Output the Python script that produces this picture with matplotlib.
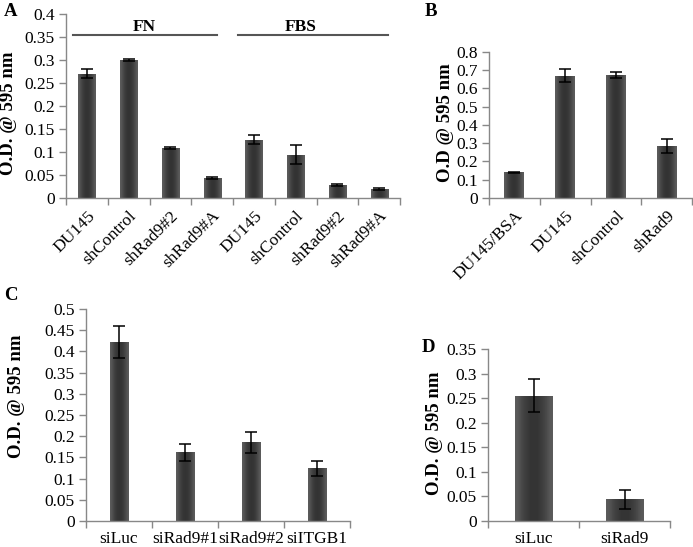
import numpy as np
import matplotlib
matplotlib.use("Agg")
import matplotlib.pyplot as plt

plt.rcParams['font.family'] = ['Liberation Serif', 'DejaVu Serif']

# Panel A
a_labels = ["DU145", "shControl", "shRad9#2", "shRad9#A", "DU145", "shControl", "shRad9#2", "shRad9#A"]
a_values = [0.270, 0.300, 0.109, 0.043, 0.127, 0.094, 0.028, 0.020]
a_errors = [0.010, 0.002, 0.002, 0.002, 0.009, 0.021, 0.003, 0.002]
a_ticks = [0, 0.05, 0.1, 0.15, 0.2, 0.25, 0.3, 0.35, 0.4]
a_groups = ["FN", "FBS"]

# Panel B
b_labels = ["DU145/BSA", "DU145", "shControl", "shRad9"]
b_values = [0.140, 0.670, 0.672, 0.283]
b_errors = [0.003, 0.035, 0.017, 0.038]
b_ticks = [0, 0.1, 0.2, 0.3, 0.4, 0.5, 0.6, 0.7, 0.8]

# Panel C
c_labels = ["siLuc", "siRad9#1", "siRad9#2", "siITGB1"]
c_values = [0.422, 0.162, 0.186, 0.124]
c_errors = [0.037, 0.020, 0.025, 0.017]
c_ticks = [0, 0.05, 0.1, 0.15, 0.2, 0.25, 0.3, 0.35, 0.4, 0.45, 0.5]

# Panel D
d_labels = ["siLuc", "siRad9"]
d_values = [0.255, 0.044]
d_errors = [0.033, 0.019]
d_ticks = [0, 0.05, 0.1, 0.15, 0.2, 0.25, 0.3, 0.35]

W, H = 693, 547
fig = plt.figure(figsize=(W / 100, H / 100), dpi=100)
FS = 12.5

def box(l, r, b, t):
    return [l / W, 1 - b / H, (r - l) / W, (b - t) / H]

grad = np.array([[0.36, 0.29, 0.24, 0.21, 0.20, 0.21, 0.24, 0.29, 0.36]])

def panel(rect, labels, values, errors, ticks, width, rot):
    ax = fig.add_axes(rect)
    x = np.arange(len(labels))
    bars = ax.bar(x, values, width=width, color='#333333', edgecolor='none', zorder=2)
    for p in bars.patches:
        x0, w, h = p.get_x(), p.get_width(), p.get_height()
        im = ax.imshow(grad, cmap='gray', vmin=0, vmax=1, aspect='auto',
                       extent=[x0, x0 + w, 0, h], zorder=2.5, interpolation='bicubic')
        im.set_clip_path(p)
    ax.errorbar(x, values, yerr=errors, fmt='none', ecolor='black', elinewidth=1.1,
                capsize=4, capthick=1.1, zorder=4)
    ax.set_xlim(-0.5, len(labels) - 0.5)
    ax.set_ylim(ticks[0], ticks[-1])
    ax.set_yticks(ticks)
    ax.set_yticklabels(['%g' % t for t in ticks], fontsize=FS)
    ax.set_xticks(x)
    if rot:
        ax.set_xticklabels(labels, rotation=45, ha='right', rotation_mode='anchor', fontsize=FS)
    else:
        ax.set_xticklabels(labels, fontsize=FS)
    ax.set_xticks(np.arange(len(labels) + 1) - 0.5, minor=True)
    ax.tick_params(axis='x', which='major', length=0, pad=7)
    ax.tick_params(axis='x', which='minor', length=5, color='#888888', width=1)
    ax.tick_params(axis='y', length=5, color='#888888', width=1, pad=3)
    for s in ['top', 'right']:
        ax.spines[s].set_visible(False)
    for s in ['left', 'bottom']:
        ax.spines[s].set_color('#888888')
        ax.spines[s].set_linewidth(1)
    return ax

axA = panel(box(66, 400, 198, 14), a_labels, a_values, a_errors, a_ticks, 0.41, True)
axA.plot([-0.33, 3.12], [0.355, 0.355], color='#555555', lw=1.5, clip_on=False)
axA.plot([3.62, 7.21], [0.355, 0.355], color='#555555', lw=1.5, clip_on=False)
axA.text(1.37, 0.371, a_groups[0], ha='center', va='center', fontsize=FS, fontweight='bold')
axA.text(5.13, 0.371, a_groups[1], ha='center', va='center', fontsize=FS, fontweight='bold')

axB = panel(box(489, 692, 198, 52), b_labels, b_values, b_errors, b_ticks, 0.39, True)
axC = panel(box(86, 350, 521, 309), c_labels, c_values, c_errors, c_ticks, 0.285, False)
axD = panel(box(488, 670, 521, 349), d_labels, d_values, d_errors, d_ticks, 0.41, False)

ylabs = [("O.D. @ 595 nm", 9, 113), ("O.D @ 595 nm", 446, 123),
         ("O.D. @ 595 nm", 17, 396), ("O.D. @ 595 nm", 435, 433)]
for txt, px, py in ylabs:
    fig.text(px / W, 1 - py / H, txt, rotation=90, ha='center', va='center',
             fontsize=13.5, fontweight='bold')

for lab, (px, py) in zip(["A", "B", "C", "D"], [(4, 11), (425, 12), (4, 295), (422, 348)]):
    fig.text(px / W, 1 - py / H, lab, fontsize=13.5, fontweight='bold', ha='left', va='center')

fig.savefig("out.png", dpi=100)
